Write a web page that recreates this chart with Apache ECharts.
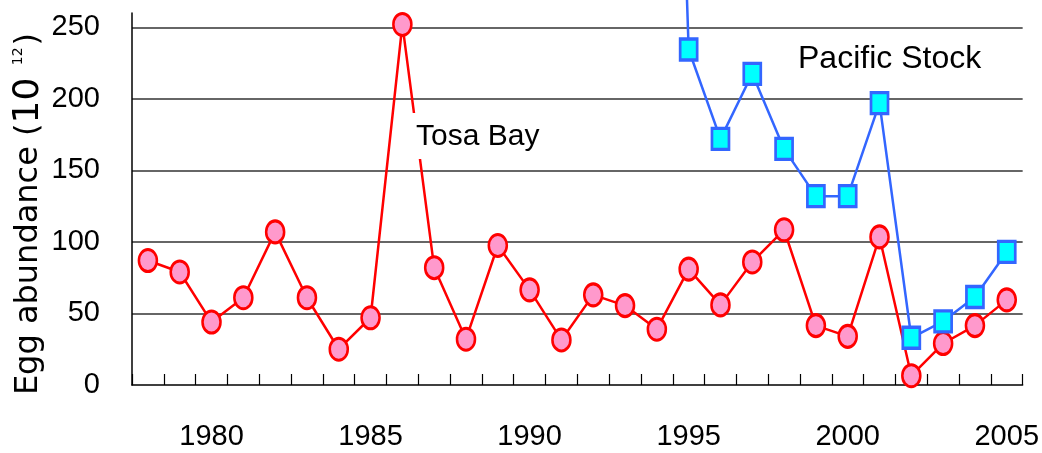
<!DOCTYPE html>
<html>
<head>
<meta charset="utf-8">
<script src="https://cdn.jsdelivr.net/npm/echarts@6/dist/echarts.min.js"></script>
<style>
  html, body { margin: 0; padding: 0; background: #fff; }
  #chart { width: 1042px; height: 453px; }
</style>
</head>
<body>
<div id="chart"></div>
<script>
// ---- data ----
const years = [1978,1979,1980,1981,1982,1983,1984,1985,1986,1987,1988,1989,1990,1991,
               1992,1993,1994,1995,1996,1997,1998,1999,2000,2001,2002,2003,2004,2005];
const tosaBay = [87,79,44,61,107,61,25,47,252,82,32,97.5,66.5,31.5,
                 63,55.5,39,81,56,86,108.5,41.5,34,103.5,6.5,29,41.5,59.5];
// 1994 value lies far above the plotted range (line leaves the top of the chart)
const pacificStock = [null,null,null,null,null,null,null,null,null,null,null,null,null,null,
                      null,null,900,234.5,172,217.5,165,132,132,197,33,44.5,61.5,93];
const yTicks = [0,50,100,150,200,250];
const xLabelYears = [1980,1985,1990,1995,2000,2005];
const seriesNames = ['Tosa Bay','Pacific Stock'];

const chart = echarts.init(document.getElementById('chart'), null, {renderer:'canvas'});
const arial = "'Liberation Sans', Arial, sans-serif";
const dejavu = "'DejaVu Sans', sans-serif";

chart.setOption({
  animation: false,
  backgroundColor: '#ffffff',
  grid: { left: 132, right: 19, top: 13, bottom: 68, containLabel: false },
  xAxis: {
    type: 'category',
    data: years.map(String),
    boundaryGap: true,
    axisLine: { show: true, lineStyle: { color: '#000', width: 1.5 } },
    axisTick: { show: true, inside: true, length: 11, interval: 0, lineStyle: { color: '#000', width: 1.2 } },
    axisLabel: {
      interval: function (i, v) { return xLabelYears.indexOf(+v) >= 0; },
      margin: 37,
      color: '#000',
      fontFamily: arial,
      fontSize: 29
    },
    splitLine: { show: false }
  },
  yAxis: {
    type: 'value',
    min: yTicks[0],
    max: 260,
    interval: 50,
    axisLine: { show: true, lineStyle: { color: '#000', width: 1.5 } },
    axisTick: { show: false },
    axisLabel: {
      showMaxLabel: false,
      margin: 32,
      color: '#000',
      fontFamily: arial,
      fontSize: 29,
      formatter: function (v) { return yTicks.indexOf(v) >= 0 ? String(v) : ''; }
    },
    splitLine: { show: true, showMinLine: false, showMaxLine: false, lineStyle: { color: '#333', width: 1.6 } }
  },
  series: [
    {
      name: seriesNames[0],
      type: 'line',
      data: tosaBay,
      showAllSymbol: true,
      symbol: 'circle',
      symbolSize: [18, 22],
      lineStyle: { color: '#ff0000', width: 2.5 },
      itemStyle: { color: '#ff99cc', borderColor: '#ff0000', borderWidth: 2.8 },
      z: 3
    },
    {
      name: seriesNames[1],
      type: 'line',
      data: pacificStock,
      showAllSymbol: true,
      clip: false,
      symbol: 'rect',
      symbolSize: [17, 21],
      lineStyle: { color: '#3366ff', width: 2.5 },
      itemStyle: { color: '#00ffff', borderColor: '#3366ff', borderWidth: 3 },
      z: 4
    }
  ],
  graphic: [
    {
      type: 'text', z: 100,
      x: 412, y: 113,
      style: {
        text: seriesNames[0],
        font: "30px " + arial,
        fill: '#000',
        backgroundColor: '#fff',
        padding: [9, 4, 7, 4],
        align: 'left', verticalAlign: 'top'
      }
    },
    {
      type: 'text', z: 100,
      x: 798, y: 59,
      style: {
        text: seriesNames[1],
        font: "32px " + arial,
        fill: '#000',
        align: 'left', verticalAlign: 'middle'
      }
    },
    {
      type: 'text', z: 100,
      x: 29, y: 214,
      rotation: Math.PI / 2,
      style: {
        text: '{a|Egg abundance (}{b|10}{c| 12}{a|)}',
        align: 'center', verticalAlign: 'middle',
        fill: '#000',
        rich: {
          a: { fontFamily: dejavu, fontSize: 32, fill: '#000', verticalAlign: 'middle' },
          b: { fontFamily: dejavu, fontSize: 36, fill: '#000', verticalAlign: 'middle' },
          c: { fontFamily: dejavu, fontSize: 14, fill: '#000', verticalAlign: 'top', padding: [0, 2, 0, 8] }
        }
      }
    }
  ]
});
</script>
</body>
</html>
